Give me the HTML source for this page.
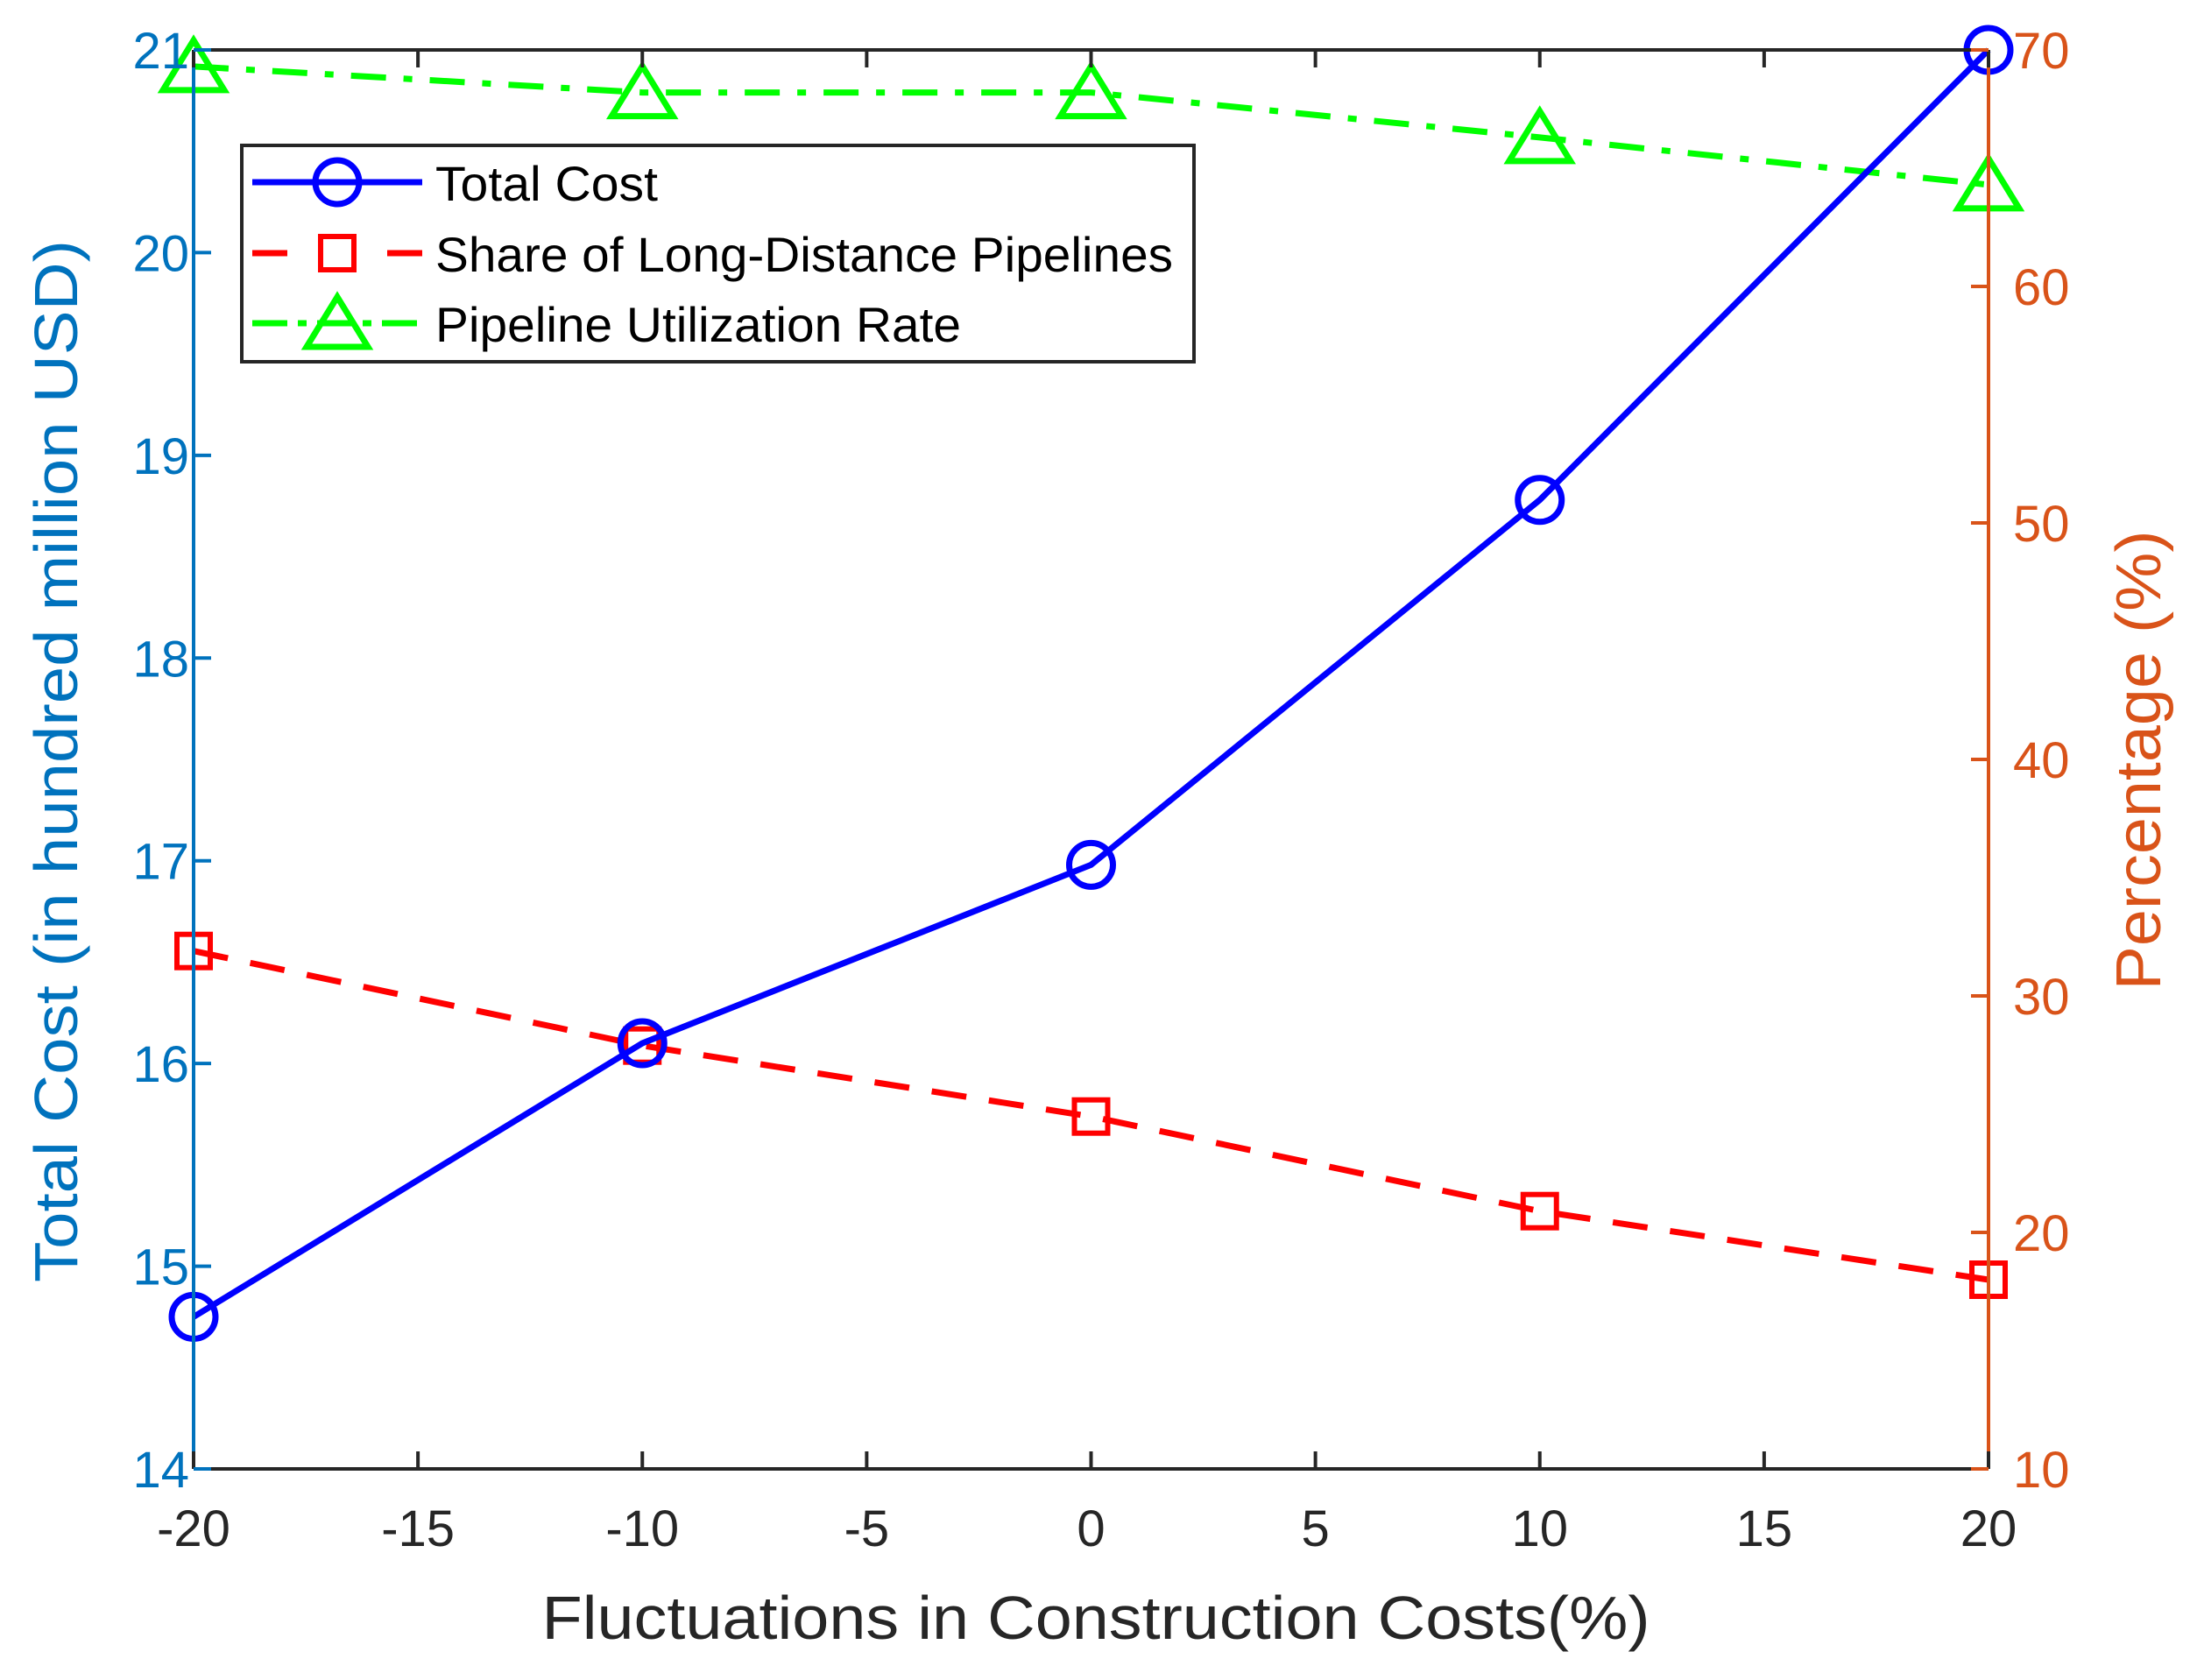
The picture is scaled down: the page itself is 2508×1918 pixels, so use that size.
<!DOCTYPE html>
<html><head><meta charset="utf-8"><style>
html,body{margin:0;padding:0;background:#fff;}
svg{display:block;font-family:"Liberation Sans",Arial,sans-serif;}
</style></head><body>
<svg id="chart" width="2508" height="1918" viewBox="0 0 2508 1918" xmlns="http://www.w3.org/2000/svg">
<rect x="0" y="0" width="2508" height="1918" fill="#fff"/>
<g id="grid"></g>
<g id="series"></g>
<g id="axes"></g>
<g id="legend"></g>
</svg>
<script>
const categories = [-20, -10, 0, 10, 20];
const totalCost = [14.75, 16.1, 16.98, 18.78, 21.0];
const shareLong = [31.9, 27.9, 24.9, 20.9, 18.0];
const utilRate = [69.3, 68.2, 68.2, 66.3, 64.3];
const xTicks = [-20, -15, -10, -5, 0, 5, 10, 15, 20];
const yLeftTicks = [14, 15, 16, 17, 18, 19, 20, 21];
const yRightTicks = [10, 20, 30, 40, 50, 60, 70];

const NS = "http://www.w3.org/2000/svg";
const L = 221, R = 2270, T = 57, B = 1677;
const xS = v => L + (v + 20) / 40 * (R - L);
const yL = v => B - (v - 14) / 7 * (B - T);
const yR = v => B - (v - 10) / 60 * (B - T);
const BLUE_AX = "#0072BD", ORANGE = "#D95319";

function mk(tag, attrs, parent, text) {
  const e = document.createElementNS(NS, tag);
  for (const k in attrs) e.setAttribute(k, attrs[k]);
  if (text !== undefined) e.textContent = text;
  parent.appendChild(e);
  return e;
}
const axes = document.getElementById('axes');
const series = document.getElementById('series');
const legend = document.getElementById('legend');

let e;
e = mk('line', {x1: L, y1: T, x2: R, y2: T, stroke: '#262626', 'stroke-width': 4}, axes);


e = mk('line', {x1: L, y1: B, x2: R, y2: B, stroke: '#262626', 'stroke-width': 4}, axes);


e = mk('line', {x1: L, y1: T, x2: L, y2: B, stroke: BLUE_AX, 'stroke-width': 4}, axes);


e = mk('line', {x1: R, y1: T, x2: R, y2: B, stroke: ORANGE, 'stroke-width': 4}, axes);



xTicks.forEach(v => {
  const x = xS(v);
  mk('line', {x1: x, y1: B, x2: x, y2: B - 20, stroke: '#262626', 'stroke-width': 4}, axes);
  mk('line', {x1: x, y1: T, x2: x, y2: T + 20, stroke: '#262626', 'stroke-width': 4}, axes);
  const t = mk('text', {x: x, y: 1765, 'text-anchor': 'middle', 'font-size': 58, fill: '#262626'}, axes, String(v));
  
  
});
yLeftTicks.forEach(v => {
  const y = yL(v);
  mk('line', {x1: L, y1: y, x2: L + 20, y2: y, stroke: BLUE_AX, 'stroke-width': 4}, axes);
  const t = mk('text', {x: 216, y: y + 21, 'text-anchor': 'end', 'font-size': 58, fill: BLUE_AX}, axes, String(v));
  
  
});
yRightTicks.forEach(v => {
  const y = yR(v);
  mk('line', {x1: R, y1: y, x2: R - 20, y2: y, stroke: ORANGE, 'stroke-width': 4}, axes);
  const t = mk('text', {x: 2298, y: y + 21, 'text-anchor': 'start', 'font-size': 58, fill: ORANGE}, axes, String(v));
  
  
});

e = mk('text', {x: 1251, y: 1871, 'text-anchor': 'middle', 'font-size': 70, fill: '#262626', textLength: 1265, lengthAdjust: 'spacingAndGlyphs'}, axes, 'Fluctuations in Construction Costs(%)');


e = mk('text', {x: 0, y: 0, 'text-anchor': 'middle', 'font-size': 70, fill: BLUE_AX, transform: 'translate(88,869) rotate(-90)', textLength: 1190, lengthAdjust: 'spacingAndGlyphs'}, axes, 'Total Cost (in hundred million USD)');


e = mk('text', {x: 0, y: 0, 'text-anchor': 'middle', 'font-size': 72, fill: ORANGE, transform: 'translate(2466,868) rotate(-90)', textLength: 525, lengthAdjust: 'spacingAndGlyphs'}, axes, 'Percentage (%)');



function markerCircle(cx, cy, parent) {
  return mk('circle', {cx: cx, cy: cy, r: 25, fill: 'none', stroke: '#0000FF', 'stroke-width': 7}, parent);
}
function markerSquare(cx, cy, parent) {
  return mk('rect', {x: cx - 19, y: cy - 19, width: 38, height: 38, fill: 'none', stroke: '#FF0000', 'stroke-width': 6}, parent);
}
function markerTri(cx, cy, parent) {
  return mk('polygon', {points: `${cx},${cy - 30} ${cx + 35},${cy + 27} ${cx - 35},${cy + 27}`, fill: 'none', stroke: '#00FF00', 'stroke-width': 7}, parent);
}

let pts = categories.map((c, i) => xS(c) + ',' + yR(utilRate[i])).join(' ');
e = mk('polyline', {points: pts, fill: 'none', stroke: '#00FF00', 'stroke-width': 7, 'stroke-dasharray': '40 20 10 20'}, series);


categories.forEach((c, i) => {
  const m = markerTri(xS(c), yR(utilRate[i]), series);
  
  
});
pts = categories.map((c, i) => xS(c) + ',' + yR(shareLong[i])).join(' ');
e = mk('polyline', {points: pts, fill: 'none', stroke: '#FF0000', 'stroke-width': 7, 'stroke-dasharray': '40 26'}, series);


categories.forEach((c, i) => {
  const m = markerSquare(xS(c), yR(shareLong[i]), series);
  
  
});
pts = categories.map((c, i) => xS(c) + ',' + yL(totalCost[i])).join(' ');
e = mk('polyline', {points: pts, fill: 'none', stroke: '#0000FF', 'stroke-width': 7}, series);


categories.forEach((c, i) => {
  const m = markerCircle(xS(c), yL(totalCost[i]), series);
  
  
});

e = mk('rect', {x: 276, y: 166, width: 1087, height: 247, fill: '#fff', stroke: '#262626', 'stroke-width': 4}, legend);


const rows = [
  {y: 208, name: 'Total Cost', dn: 'legend-entry-total-cost'},
  {y: 289, name: 'Share of Long-Distance Pipelines', dn: 'legend-entry-share-long-distance'},
  {y: 369, name: 'Pipeline Utilization Rate', dn: 'legend-entry-utilization-rate'}
];
mk('line', {x1: 288, y1: rows[0].y, x2: 482, y2: rows[0].y, stroke: '#0000FF', 'stroke-width': 7}, legend);
markerCircle(385, rows[0].y, legend);
mk('line', {x1: 288, y1: rows[1].y, x2: 328, y2: rows[1].y, stroke: '#FF0000', 'stroke-width': 7}, legend);
mk('line', {x1: 442, y1: rows[1].y, x2: 482, y2: rows[1].y, stroke: '#FF0000', 'stroke-width': 7}, legend);
markerSquare(385, rows[1].y, legend);
mk('line', {x1: 288, y1: rows[2].y, x2: 482, y2: rows[2].y, stroke: '#00FF00', 'stroke-width': 7, 'stroke-dasharray': '40 12 10 12'}, legend);
markerTri(385, rows[2].y, legend);
const lens = [254, 842, 600];
rows.forEach((r, i) => {
  const t = mk('text', {x: 497, y: r.y + 21, 'font-size': 56, fill: '#000', textLength: lens[i], lengthAdjust: 'spacingAndGlyphs'}, legend, r.name);
  
  
});
</script>
</body></html>
